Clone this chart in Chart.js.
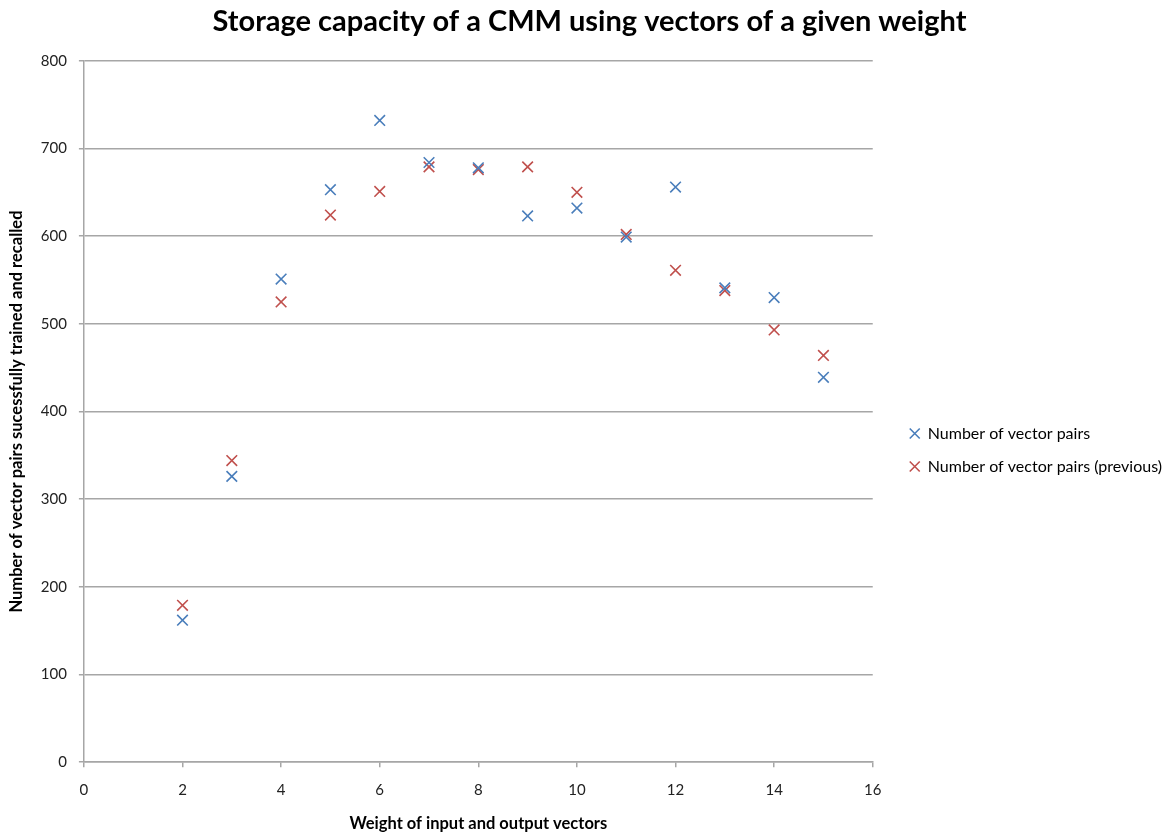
<!DOCTYPE html>
<html>
<head>
<meta charset="utf-8">
<script src="https://cdn.jsdelivr.net/npm/chart.js@4"></script>
<style>
  html, body { margin: 0; padding: 0; background: #fff; }
  #wrap { width: 1172px; height: 836px; }
</style>
</head>
<body>
<div id="wrap"><canvas id="capacityChart"></canvas></div>
<script>
// weight of the vectors
const weights = [2, 3, 4, 5, 6, 7, 8, 9, 10, 11, 12, 13, 14, 15]
// pairs trained and recalled, current run
const pairsNow = [162, 326, 551, 653, 732, 684, 678, 623, 632, 599, 656, 541, 530, 439]
// pairs trained and recalled, previous run
const pairsPrev = [179, 344, 525, 624, 651, 679, 676, 679, 650, 602, 561, 538, 493, 464]

const xTicks = [0, 2, 4, 6, 8, 10, 12, 14, 16]
const yTicks = [0, 100, 200, 300, 400, 500, 600, 700, 800]

const fontFamily = 'Lato, "Open Sans", sans-serif'
const gridGrey = '#a6a6a6'

function toPoints(ys) {
    return weights.map((w, i) => ({ x: w, y: ys[i] }))
}

// widen the legend column and nudge the entries away from the plot
const legendRoom = {
    id: 'legendRoom',
    beforeInit(chart) {
        const fit = chart.legend.fit
        chart.legend.fit = function () {
            fit.call(this)
            this.width += 20
        }
    },
    afterLayout(chart) {
        const lg = chart.legend
        lg.left += 20
        lg.right += 20
        lg.top += 31
        lg.bottom += 31
    }
}

new Chart(document.getElementById('capacityChart'), {
    type: 'scatter',
    plugins: [legendRoom],
    data: {
        datasets: [
            {
                label: 'Number of vector pairs',
                data: toPoints(pairsNow),
                pointStyle: 'crossRot',
                pointRadius: 7.5,
                pointHoverRadius: 7.5,
                pointBorderWidth: 1.6,
                borderColor: '#4a7ebb',
                backgroundColor: '#4a7ebb'
            },
            {
                label: 'Number of vector pairs (previous)',
                data: toPoints(pairsPrev),
                pointStyle: 'crossRot',
                pointRadius: 7.5,
                pointHoverRadius: 7.5,
                pointBorderWidth: 1.6,
                borderColor: '#c0504d',
                backgroundColor: '#c0504d'
            }
        ]
    },
    options: {
        responsive: true,
        maintainAspectRatio: false,
        animation: false,
        layout: { padding: { top: 4, right: 0, bottom: 2, left: 7 } },
        plugins: {
            title: {
                display: true,
                text: 'Storage capacity of a CMM using vectors of a given weight',
                color: '#000',
                font: { family: fontFamily, size: 29, weight: 'bold' },
                padding: { top: 0, bottom: 22 }
            },
            legend: {
                position: 'right',
                labels: {
                    usePointStyle: true,
                    pointStyle: 'crossRot',
                    boxWidth: 10,
                    boxHeight: 10,
                    padding: 17,
                    color: '#000',
                    font: { family: fontFamily, size: 16 }
                }
            },
            tooltip: { enabled: false }
        },
        scales: {
            x: {
                type: 'linear',
                min: 0,
                max: 16,
                afterBuildTicks: axis => { axis.ticks = xTicks.map(v => ({ value: v })) },
                grid: { drawOnChartArea: false, drawTicks: true, tickLength: 5, color: gridGrey, lineWidth: 1.5 },
                border: { color: gridGrey, width: 1.5 },
                ticks: { color: '#222', padding: 14, font: { family: fontFamily, size: 15 } },
                title: {
                    display: true,
                    text: 'Weight of input and output vectors',
                    color: '#000',
                    font: { family: fontFamily, size: 16.5, weight: 'bold' },
                    padding: { top: 1, bottom: 0 }
                }
            },
            y: {
                type: 'linear',
                min: 0,
                max: 800,
                afterBuildTicks: axis => { axis.ticks = yTicks.map(v => ({ value: v })) },
                grid: { color: gridGrey, lineWidth: 1.5, tickLength: 5 },
                border: { color: gridGrey, width: 1.5 },
                ticks: { color: '#222', padding: 12, font: { family: fontFamily, size: 15 } },
                title: {
                    display: true,
                    text: 'Number of vector pairs sucessfully trained and recalled',
                    color: '#000',
                    font: { family: fontFamily, size: 16.5, weight: 'bold' },
                    padding: { top: 0, bottom: 2 }
                }
            }
        }
    }
})
</script>
</body>
</html>
